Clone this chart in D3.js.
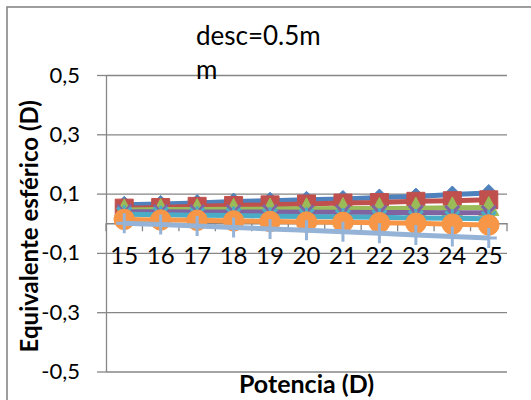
<!DOCTYPE html>
<html>
<head>
<meta charset="utf-8">
<script src="https://cdn.jsdelivr.net/npm/d3@7"></script>
<style>
  body { margin: 0; background: #fff; }
  svg { display: block; }
  text { font-family: Lato, "Liberation Sans", sans-serif; fill: #000; }
</style>
</head>
<body>
<svg id="chart" width="531" height="400"></svg>
<script>
// Categories on the horizontal axis: lens power (D)
const categories = [15, 16, 17, 18, 19, 20, 21, 22, 23, 24, 25];

// Spherical equivalent per series
const serie1 = [0.062, 0.065, 0.068, 0.073, 0.076, 0.079, 0.082, 0.087, 0.090, 0.097, 0.102];
const serie2 = [0.051, 0.053, 0.057, 0.060, 0.062, 0.065, 0.068, 0.070, 0.074, 0.076, 0.079];
const serie3 = [0.045, 0.046, 0.046, 0.047, 0.048, 0.049, 0.050, 0.050, 0.051, 0.052, 0.053];
const serie4 = [0.039, 0.039, 0.038, 0.038, 0.038, 0.037, 0.037, 0.036, 0.036, 0.035, 0.035];
const serie5 = [0.030, 0.029, 0.027, 0.026, 0.024, 0.023, 0.021, 0.020, 0.018, 0.017, 0.015];
const serie6 = [0.013, 0.011, 0.010, 0.008, 0.006, 0.004, 0.003, 0.002, 0.000, -0.003, -0.006];
const serie7 = [0.000, -0.004, -0.009, -0.014, -0.019, -0.024, -0.029, -0.034, -0.040, -0.045, -0.050];

const seriesColors  = ["#4F81BD", "#C0504D", "#9BBB59", "#8064A2", "#4BACC6", "#F79646", "#95B3D7"];
const seriesMarkers = ["diamond", "square", "triangle", "times", "asterisk", "circle", "plus"];

// Value axis ticks
const yTicks = [-0.5, -0.3, -0.1, 0.1, 0.3, 0.5];
const yTickLabels = ["-0,5", "-0,3", "-0,1", "0,1", "0,3", "0,5"];

const titleLines = ["desc=0.5m", "m"];
const xAxisTitle = "Potencia (D)";
const yAxisTitle = "Equivalente esférico (D)";

const allSeries = [serie1, serie2, serie3, serie4, serie5, serie6, serie7];

const svg = d3.select("#chart");
const W = 531, H = 400;
const plot = { left: 106, right: 507, top: 75, bottom: 371.5 };
const gridColor = "#868686";

// Outer chart frame
svg.append("rect")
  .attr("x", 7).attr("y", 7)
  .attr("width", W + 20).attr("height", H + 20)
  .attr("fill", "#fff")
  .attr("stroke", gridColor).attr("stroke-width", 1.6);

const x = d3.scaleBand().domain(categories).range([plot.left, plot.right]);
const cx = c => x(c) + x.bandwidth() / 2;
const y = d3.scaleLinear().domain([-0.5, 0.5]).range([plot.bottom, plot.top]);

// Horizontal gridlines
const grid = svg.append("g")
  .attr("transform", `translate(${plot.left},0)`)
  .call(d3.axisLeft(y).tickValues(yTicks).tickSize(-(plot.right - plot.left)).tickFormat(""));
grid.select(".domain").remove();
grid.selectAll(".tick line").attr("stroke", gridColor).attr("stroke-width", 1.3);

// Value axis with outside ticks and labels
const yAxis = svg.append("g")
  .attr("transform", `translate(${plot.left},0)`)
  .call(d3.axisLeft(y).tickValues(yTicks).tickSize(9).tickSizeOuter(0).tickPadding(17)
        .tickFormat((d, i) => yTickLabels[i]));
yAxis.select(".domain").attr("stroke", gridColor).attr("stroke-width", 1.3);
yAxis.selectAll(".tick line").attr("stroke", gridColor).attr("stroke-width", 1.3);
yAxis.selectAll(".tick text").attr("font-size", 22).attr("font-family", "Lato");

// Category axis crossing at zero
const y0 = y(0);
const xAxis = svg.append("g")
  .attr("transform", `translate(0,${y0})`)
  .call(d3.axisBottom(x).tickSize(0).tickSizeOuter(0).tickPadding(24));
xAxis.select(".domain").attr("stroke", gridColor).attr("stroke-width", 1.3);
xAxis.selectAll(".tick text").attr("font-size", 24).attr("font-family", "Lato");

// Tick marks between categories
const bounds = categories.map(c => x(c)).concat([plot.right]);
svg.append("g").selectAll("line").data(bounds).join("line")
  .attr("x1", d => d).attr("x2", d => d)
  .attr("y1", y0).attr("y2", y0 + 8)
  .attr("stroke", gridColor).attr("stroke-width", 1.3);

// Marker shapes
function markerPath(kind) {
  switch (kind) {
    case "diamond":  return "M0,-8.5L8.5,0L0,8.5L-8.5,0Z";
    case "square":   return "M-9,-9H9V9H-9Z";
    case "triangle": return "M0,-11L10,8L-10,8Z";
    case "circle":   return d3.symbol(d3.symbolCircle, 330)();
    case "times":    return "M-7,-7L7,7M-7,7L7,-7";
    case "asterisk": return "M-7,-7L7,7M-7,7L7,-7M0,-9V9";
    case "plus":     return "M-8,0H8M0,-10V10";
  }
}
const strokeOnly = new Set(["times", "asterisk", "plus"]);

const line = d3.line().x((d, i) => cx(categories[i])).y(d => y(d));

allSeries.forEach((vals, si) => {
  const g = svg.append("g");
  const col = seriesColors[si];
  g.append("path")
    .attr("d", line(vals))
    .attr("fill", "none")
    .attr("stroke", col)
    .attr("stroke-width", 5)
    .attr("stroke-linejoin", "round");
  const kind = seriesMarkers[si];
  g.selectAll("path.m").data(vals).join("path")
    .attr("class", "m")
    .attr("transform", (d, i) => `translate(${cx(categories[i])},${y(d)})`)
    .attr("d", markerPath(kind))
    .attr("fill", strokeOnly.has(kind) ? "none" : col)
    .attr("stroke", col)
    .attr("stroke-width", strokeOnly.has(kind) ? 3 : 1);
});

// Chart title (wrapped on two lines)
const t = svg.append("text").attr("font-size", 26);
titleLines.forEach((ln, i) => {
  t.append("tspan").attr("x", 196).attr("y", 45 + i * 34).text(ln);
});

// Axis titles
svg.append("text")
  .attr("x", (plot.left + plot.right) / 2).attr("y", 393)
  .attr("text-anchor", "middle").attr("font-weight", "bold").attr("font-size", 25)
  .text(xAxisTitle);

svg.append("text")
  .attr("transform", `translate(38,${(plot.top + plot.bottom) / 2 + 3}) rotate(-90)`)
  .attr("text-anchor", "middle").attr("font-weight", "bold").attr("font-size", 24)
  .text(yAxisTitle);
</script>
</body>
</html>
